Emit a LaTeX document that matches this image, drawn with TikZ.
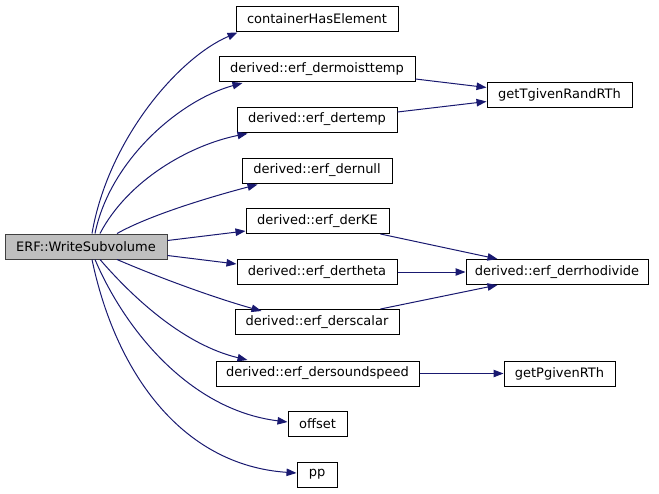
\documentclass[tikz,border=0pt]{standalone}
\usepackage{fontspec}
\setmainfont{DejaVu Sans}
\usetikzlibrary{arrows.meta,calc}
\definecolor{edgeblue}{HTML}{191970}
\definecolor{curfill}{HTML}{BFBFBF}
\definecolor{curdraw}{HTML}{404040}
\tikzset{
  box/.style={draw=black, line width=0.75pt, fill=white, minimum height=18.75pt, inner sep=0pt,
    font=\fontsize{9.75}{11}\selectfont},
  curbox/.style={box, fill=curfill, draw=curdraw},
  edge/.style={draw=edgeblue, line width=0.75pt, -{Triangle[length=7.5pt,width=5.6pt]}}
}
\begin{document}
\begin{tikzpicture}[x=0.75pt,y=-0.75pt]
\useasboundingbox (0,0) rectangle (659,493);
% nodes (centres in px)
\node[curbox, minimum width=121.5pt] (erf) at (86,246.5) {ERF::WriteSubvolume};
\node[box, minimum width=121.5pt] (cont) at (317,18.5) {containerHasElement};
\node[box, minimum width=147pt] (moist) at (317,69) {derived::erf\_dermoisttemp};
\node[box, minimum width=108.75pt] (gett) at (559.5,94.5) {getTgivenRandRTh};
\node[box, minimum width=120pt] (temp) at (317,119.5) {derived::erf\_dertemp};
\node[box, minimum width=112.5pt] (null) at (317,170.5) {derived::erf\_dernull};
\node[box, minimum width=107.25pt] (ke) at (317.5,221) {derived::erf\_derKE};
\node[box, minimum width=120pt] (theta) at (317,272) {derived::erf\_dertheta};
\node[box, minimum width=136.5pt] (rho) at (557,272) {derived::erf\_derrhodivide};
\node[box, minimum width=123pt] (scal) at (317,322) {derived::erf\_derscalar};
\node[box, minimum width=152.25pt] (sound) at (317.5,373.5) {derived::erf\_dersoundspeed};
\node[box, minimum width=83.25pt] (getp) at (559.5,373.5) {getPgivenRTh};
\node[box, minimum width=44.25pt] (off) at (317.5,424) {offset};
\node[box, minimum width=30pt] (pp) at (317,474.5) {pp};
% edges from ERF
\draw[edge] ($(erf.north)+(6,0)$) .. controls (108,140) and (178,58) .. ($(cont.south west)+(2,1)$);
\draw[edge] ($(erf.north)+(9,0)$) .. controls (110,160) and (180,100) .. ($(moist.south west)+(24,1)$);
\draw[edge] ($(erf.north)+(14,0)$) .. controls (128,180) and (190,145) .. ($(temp.south west)+(11,1)$);
\draw[edge] ($(erf.north)+(31,0)$) .. controls (150,215) and (210,197) .. ($(null.south west)+(16,1)$);
\draw[edge] ($(erf.east)+(0,-6)$) -- ($(ke.south west)+(0,-3)$);
\draw[edge] ($(erf.east)+(0,9)$) -- ($(theta.west)+(0,-8)$);
\draw[edge] ($(erf.south)+(31,0)$) .. controls (160,278) and (215,298) .. ($(scal.north west)+(27,2)$);
\draw[edge] ($(erf.south)+(14,0)$) .. controls (135,300) and (185,345) .. ($(sound.north west)+(32,-0.5)$);
\draw[edge] ($(erf.south)+(9,0)$) .. controls (125,330) and (190,410) .. ($(off.west)+(0,-2)$);
\draw[edge] ($(erf.south)+(6,0)$) .. controls (115,370) and (180,465) .. ($(pp.west)+(0,-1.5)$);
% other edges
\draw[edge] ($(moist.east)+(0,10)$) -- ($(gett.west)+(0,-7)$);
\draw[edge] ($(temp.east)+(0,-7.5)$) -- ($(gett.west)+(0,7)$);
\draw[edge] ($(ke.south east)+(-9,0)$) -- ($(rho.north west)+(32,0)$);
\draw[edge] (theta.east) -- (rho.west);
\draw[edge] ($(scal.north east)+(-19,0)$) -- ($(rho.south west)+(32,0)$);
\draw[edge] (sound.east) -- (getp.west);
\end{tikzpicture}
\end{document}
